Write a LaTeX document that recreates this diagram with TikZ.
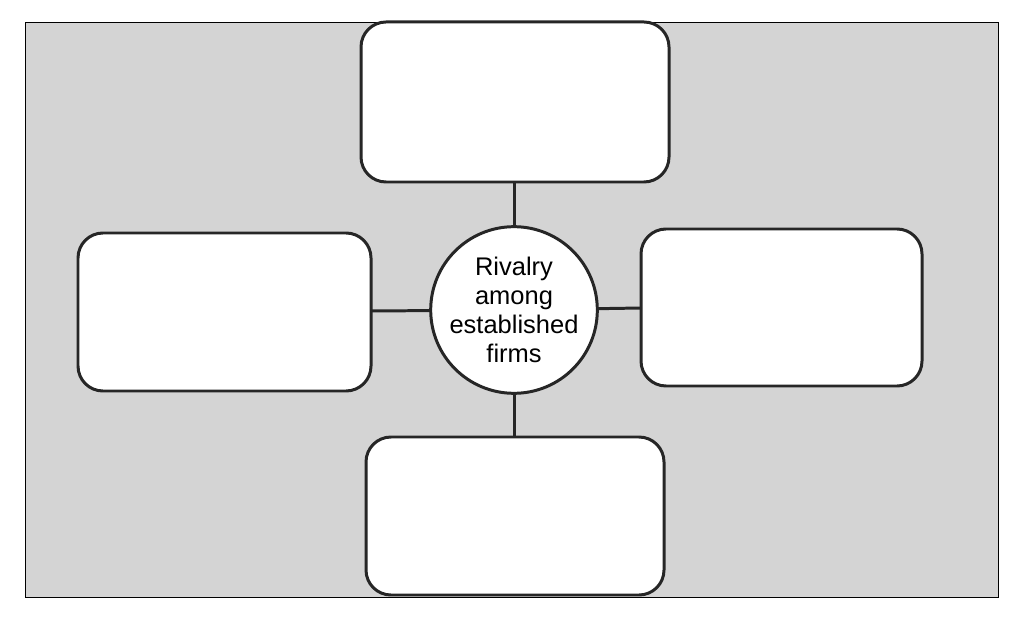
\documentclass[tikz,border=0pt]{standalone}
\usepackage{fontspec}
\setmainfont{Liberation Sans}
\usetikzlibrary{positioning}
\tikzset{>=stealth}
\begin{document}
\begin{tikzpicture}[x=0.02cm,y=-0.02cm,
                    box/.style={draw=black!85,line width=1.7pt,fill=white,rounded corners=0.5cm},
                    link/.style={draw=black!85,line width=1.7pt}]
\useasboundingbox (0,0) rectangle (1026,624);
% background panel
\path[fill=black!17,draw=black,thin] (25,22) rectangle (998,597);
% boxes
\draw[box] (361,22) rectangle (669,182);
\draw[box] (78,233) rectangle (371,391);
\draw[box] (641,229) rectangle (922,386);
\draw[box] (366,437) rectangle (664,595);
% links
\coordinate (top) at (514,182);
\coordinate (left) at (371,311);
\coordinate (right) at (641,308);
\coordinate (bottom) at (514,437);
\node[circle,draw=black!85,line width=1.7pt,fill=white,minimum size=3.2cm,inner sep=0pt,
      align=center,font=\fontsize{14.5}{16.5}\selectfont] (rivalry) at (514,310)
      {Rivalry\\among\\established\\firms};
\draw[link] (top) -- (rivalry);
\draw[link] (left) -- (rivalry);
\draw[link] (right) -- (rivalry);
\draw[link] (bottom) -- (rivalry);
\end{tikzpicture}
\end{document}
